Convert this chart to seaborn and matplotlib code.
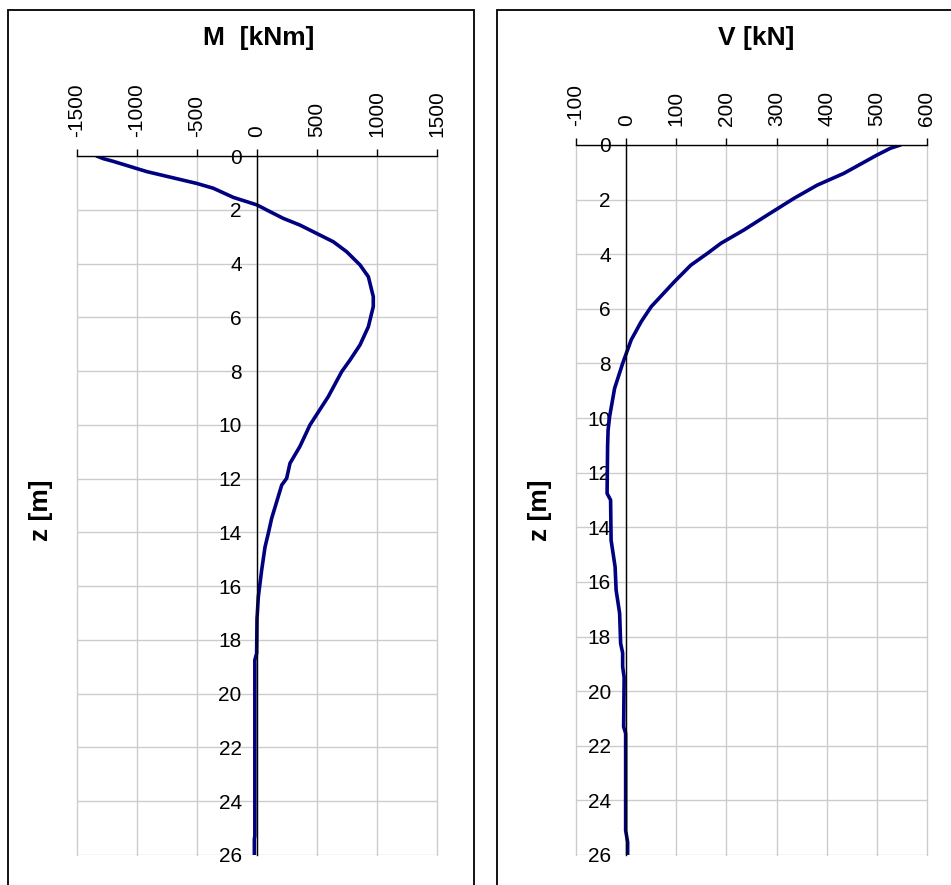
import matplotlib
matplotlib.use("Agg")
import matplotlib.pyplot as plt
import seaborn as sns
import pandas as pd
from matplotlib.patches import Rectangle

# depth profiles
z_m = [0, 0.1, 0.2, 0.58, 1.02, 1.2, 1.54, 1.82, 2.07, 2.32, 2.57, 2.88, 3.19, 3.56,
       4.05, 4.49, 5.23, 5.6, 6.35, 7.03, 7.59, 8.02, 8.95, 10.0, 10.8, 11.43, 11.99,
       12.24, 13.48, 14.04, 14.54, 15.4, 16.4, 17.0, 17.2, 18.5, 18.75, 25.3, 25.4, 26]
moment = [-1336, -1280, -1197, -919, -502, -364, -197, 0, 108, 219, 358, 497, 636, 747,
          858, 928, 969, 969, 928, 858, 775, 706, 594, 442, 358, 275, 247,
          206, 122, 94, 67, 39, 11, 3, 0, -3, -18, -18, -22, -22]

z_v = [0, 0.12, 0.37, 1.04, 1.47, 1.95, 2.56, 3.11, 3.6, 3.97, 4.4, 5.01, 5.92, 6.47,
       7.14, 8.0, 8.91, 9.95, 10.44, 11.05, 12.76, 13.0, 14.47, 15.45, 16.3, 17.15,
       18.25, 18.6, 19.1, 19.5, 21.3, 21.55, 25.1, 25.53, 26]
shear = [547, 527, 500, 434, 381, 335, 282, 235, 189, 162, 129, 96, 50, 30,
         10, -7, -23, -33, -36, -37, -38, -31, -30, -22, -20, -13,
         -11, -7, -7, -4, -5, -1, -1, 3, 3]

m_ticks = [-1500, -1000, -500, 0, 500, 1000, 1500]
v_ticks = [-100, 0, 100, 200, 300, 400, 500, 600]
z_ticks = list(range(0, 27, 2))

sns.set_style("white")
plt.rcParams['font.family'] = ['Liberation Sans', 'DejaVu Sans']
plt.rcParams['axes.unicode_minus'] = False
plt.rcParams['text.color'] = 'black'

W, H = 951, 885
fig = plt.figure(figsize=(W / 100, H / 100), dpi=100)


def px_box(x0, y0, x1, y1):
    return [x0 / W, 1 - y1 / H, (x1 - x0) / W, (y1 - y0) / H]


def style_axis(ax, xticks):
    ax.set_xlim(xticks[0], xticks[-1])
    ax.set_ylim(26, 0)
    ax.set_xticks(xticks)
    ax.set_yticks(z_ticks)
    ax.grid(True, color='#cccccc', linewidth=1.0)
    for g in ax.get_xgridlines() + ax.get_ygridlines():
        g.set_clip_on(False)
    ax.spines['right'].set_visible(False)
    ax.spines['bottom'].set_visible(False)
    ax.spines['left'].set_position(('data', 0))
    for s in ('left', 'top'):
        ax.spines[s].set_color('black')
        ax.spines[s].set_linewidth(1.0)
    ax.xaxis.tick_top()
    ax.tick_params(axis='x', direction='out', length=5, width=1, pad=9,
                   labelsize=15, labelrotation=90, colors='black')
    ax.tick_params(axis='y', direction='out', length=5, width=1, pad=6,
                   labelsize=15, colors='black')
    for lab in ax.get_xticklabels():
        lab.set_verticalalignment('bottom')
    ax.set_xlabel('')
    ax.set_ylabel('')


# left panel: bending moment
ax1 = fig.add_axes(px_box(77, 156, 437, 855))
df_m = pd.DataFrame({'M': moment, 'z': z_m})
sns.lineplot(data=df_m, x='M', y='z', sort=False, estimator=None,
             color='#000080', linewidth=2.6, ax=ax1)
style_axis(ax1, m_ticks)

# right panel: shear force
ax2 = fig.add_axes(px_box(576, 145, 927, 855))
df_v = pd.DataFrame({'V': shear, 'z': z_v})
sns.lineplot(data=df_v, x='V', y='z', sort=False, estimator=None,
             color='#000080', linewidth=2.6, ax=ax2)
style_axis(ax2, v_ticks)

# chart frames
fig.patches.append(Rectangle((8 / W, -0.05), (474 - 8) / W, 1.05 - 10 / H,
                             transform=fig.transFigure, fill=False,
                             edgecolor='black', linewidth=1.3))
fig.patches.append(Rectangle((497 / W, -0.05), 0.5, 1.05 - 10 / H,
                             transform=fig.transFigure, fill=False,
                             edgecolor='black', linewidth=1.3))

fig.text(259 / W, 1 - 38 / H, 'M  [kNm]', ha='center', va='center',
         fontsize=19, fontweight='bold', color='black')
fig.text(756 / W, 1 - 38 / H, 'V [kN]', ha='center', va='center',
         fontsize=19, fontweight='bold', color='black')
fig.text(41 / W, 1 - 510 / H, 'z [m]', ha='center', va='center', rotation=90,
         fontsize=19, fontweight='bold', color='black')
fig.text(540 / W, 1 - 510 / H, 'z [m]', ha='center', va='center', rotation=90,
         fontsize=19, fontweight='bold', color='black')

fig.savefig('out.png', dpi=100)
